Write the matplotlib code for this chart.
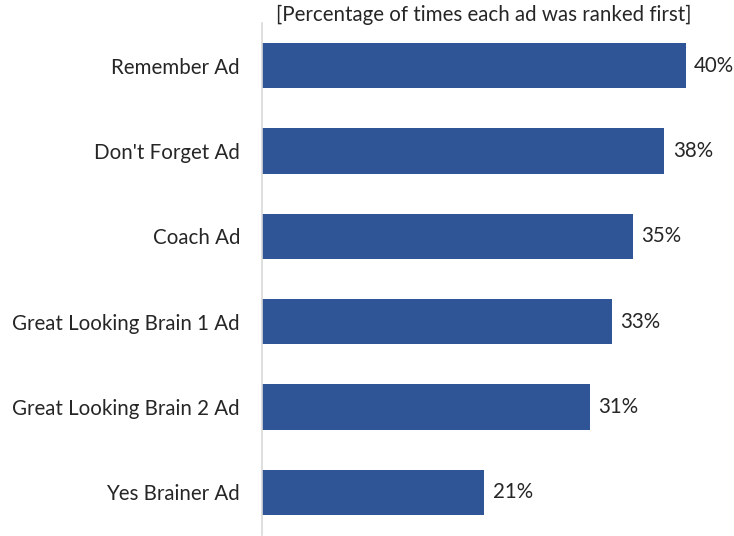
import matplotlib
matplotlib.use("Agg")
import matplotlib.pyplot as plt

plt.rcParams['font.family'] = ['Lato', 'DejaVu Sans']

# ranking shares per ad
ads = ["Remember Ad", "Don't Forget Ad", "Coach Ad",
       "Great Looking Brain 1 Ad", "Great Looking Brain 2 Ad", "Yes Brainer Ad"]
pct_first = [40, 38, 35, 33, 31, 21]

W, H = 734, 536
fig = plt.figure(figsize=(W / 100, H / 100), dpi=100)
ax = fig.add_axes([262 / W, 1 / H, 466 / W, 512 / H])

ypos = list(range(len(ads)))
ax.barh(ypos, pct_first, height=0.53, color="#2F5597", edgecolor="none")
ax.set_ylim(len(ads) - 0.5, -0.5)
ax.set_xlim(0, 44)

fs = 14.8
for y, v in zip(ypos, pct_first):
    ax.annotate(f"{v}%", xy=(v, y), xytext=(6, 0), textcoords="offset points",
                ha="left", va="center", fontsize=fs, color="#262626")

ax.set_yticks(ypos)
ax.set_yticklabels(ads, fontsize=fs, color="#262626")
ax.tick_params(axis="y", length=0, pad=15.8)
ax.set_xticks([])
for side in ["top", "right", "bottom"]:
    ax.spines[side].set_visible(False)
ax.spines["left"].set_color("#d9d9d9")
ax.spines["left"].set_linewidth(1.2)

fig.text(484 / W, 1 - 15 / H, "[Percentage of times each ad was ranked first]",
         ha="center", va="center", fontsize=fs, color="#262626")

fig.savefig("out.png", dpi=100)
